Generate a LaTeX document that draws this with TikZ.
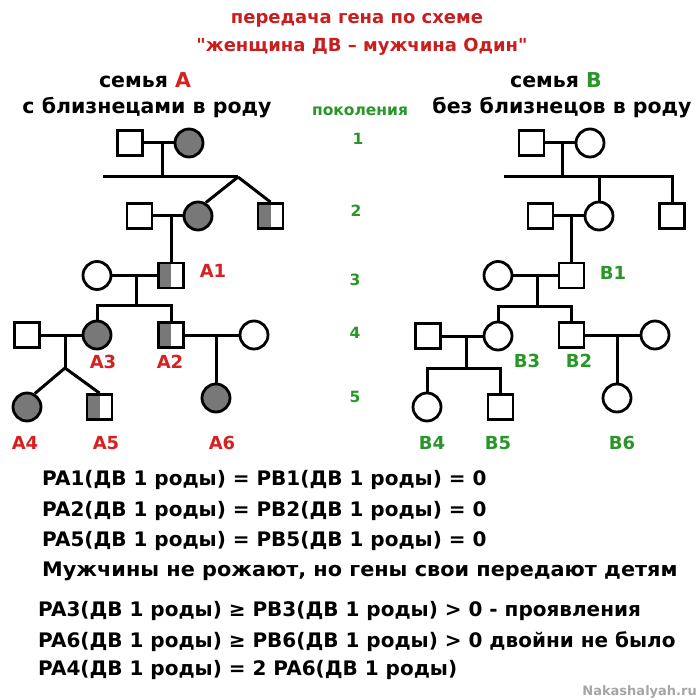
\documentclass[tikz,border=0pt]{standalone}
\usepackage{fontspec}
\setmainfont{DejaVu Sans}
\definecolor{aff}{RGB}{120,120,120}
\definecolor{tred}{RGB}{200,30,30}
\definecolor{lred}{RGB}{215,32,32}
\definecolor{lgreen}{RGB}{40,150,40}
\newcommand{\sqt}{\XeTeXglyph\XeTeXcharglyph"22\relax}
\begin{document}
\begin{tikzpicture}[x=1pt,y=-1pt,
  sq/.style={draw, rectangle, line width=2.8pt, minimum size=25pt, inner sep=0pt},
  ci/.style={draw, circle, line width=2.8pt, minimum size=28pt, inner sep=0pt},
  affd/.style={fill=aff},
  half/.style={path picture={\fill[aff] (path picture bounding box.south west) rectangle (path picture bounding box.north);}},
  ln/.style={line width=3pt},
  lblA/.style={text=lred, font=\fontsize{18}{18}\selectfont\bfseries, inner sep=0pt},
  lblB/.style={text=lgreen, font=\fontsize{18}{18}\selectfont\bfseries, inner sep=0pt},
  gen/.style={text=lgreen, font=\fontsize{15.5}{15.5}\selectfont\bfseries, inner sep=0pt},
  head/.style={font=\fontsize{20.5}{20.5}\selectfont\bfseries, inner sep=0pt},
  ttl/.style={text=tred, font=\fontsize{18}{18}\selectfont\bfseries, inner sep=0pt},
  eq/.style={anchor=west, font=\fontsize{20}{20}\selectfont\bfseries, inner sep=0pt}
]
\useasboundingbox (0,0) rectangle (700,700);
\fill[white] (0,0) rectangle (700,700);

% ---------- titles ----------
\node[ttl] (t1) at (357,20) {передача гена по схеме};
\node[ttl] (t2) at (362,47) {\sqt женщина ДВ – мужчина Один\sqt};
\node[head] (hA1) at (145,80) {семья \textcolor{lred}{A}};
\node[head] (hA2) at (147,108) {с близнецами в роду};
\node[head] (hB1) at (556,80) {семья \textcolor{lgreen}{B}};
\node[head] (hB2) at (562,108) {без близнецов в роду};
\node[gen] (pk) at (360,111) {поколения};
\node[gen] (g1) at (358,139) {1};
\node[gen] (g2) at (356,211) {2};
\node[gen] (g3) at (355,280) {3};
\node[gen] (g4) at (355,333) {4};
\node[gen] (g5) at (355,397) {5};

% ---------- family A ----------
\node[sq] (a1m) at (130,143) {};
\node[ci,affd] (a1f) at (189,143) {};
\node[sq] (a2m) at (139.5,216) {};
\node[ci,affd] (a2f) at (198,216) {};
\node[sq,half] (a2b) at (270.5,216) {};
\node[ci] (a3f) at (97,275.5) {};
\node[sq,half] (A1) at (171,275.5) {};
\node[sq] (a4m) at (27,335) {};
\node[ci,affd] (A3) at (97,335) {};
\node[sq,half] (A2) at (171,335) {};
\node[ci] (a4f) at (254,335) {};
\node[ci,affd] (A4) at (27,407) {};
\node[sq,half] (A5) at (99.5,407) {};
\node[ci,affd] (A6) at (216,398) {};

\coordinate (ma1) at (162,143);
\coordinate (sa1) at (162,177);
\coordinate (sa1l) at (103,177);
\coordinate (tw1) at (238,177);
\draw[ln] (a1m.east) -- (a1f.west);
\draw[ln] (ma1) -- (sa1);
\draw[ln] (sa1l) -- (tw1);
\draw[ln] (tw1) -- (a2f.60);
\draw[ln] (tw1) -- (a2b.north);
\draw[ln] (a2m.east) -- (a2f.west);
\draw[ln] (a2m.east -| A1.north) -- (A1.north);
\coordinate (ma3) at (136,275.5);
\coordinate (sa3) at (136,305);
\draw[ln] (a3f.east) -- (A1.west);
\draw[ln] (ma3) -- (sa3);
\draw[ln] (A3.north) |- (sa3) -| (A2.north);
\coordinate (ma4) at (65,335);
\coordinate (tw4) at (65,368);
\draw[ln] (a4m.east) -- (A3.west);
\draw[ln] (ma4) -- (tw4);
\draw[ln] (tw4) -- (A4.60);
\draw[ln] (tw4) -- (A5.north);
\draw[ln] (A2.east) -- (a4f.west);
\draw[ln] (A2.east -| A6.north) -- (A6.north);

\node[lblA] (lA1) at (213,271) {A1};
\node[lblA] (lA3) at (103,362) {A3};
\node[lblA] (lA2) at (170,362) {A2};
\node[lblA] (lA4) at (25,443) {A4};
\node[lblA] (lA5) at (106,443) {A5};
\node[lblA] (lA6) at (222,443) {A6};

% ---------- family B ----------
\node[sq] (b1m) at (531.5,143) {};
\node[ci] (b1f) at (590,143) {};
\node[sq] (b2m) at (540.5,216) {};
\node[ci] (b2f) at (599,216) {};
\node[sq] (b2b) at (672,216) {};
\node[ci] (b3f) at (498,275.5) {};
\node[sq] (B1) at (571.5,275.5) {};
\node[sq] (b4m) at (428,336) {};
\node[ci] (B3) at (498,336) {};
\node[sq] (B2) at (571.5,335) {};
\node[ci] (b4f) at (655,335) {};
\node[ci] (B4) at (427,407) {};
\node[sq] (B5) at (500.5,407) {};
\node[ci] (B6) at (617,398) {};

\coordinate (mb1) at (562,143);
\coordinate (sb1) at (562,177);
\coordinate (sb1l) at (504,177);
\draw[ln] (b1m.east) -- (b1f.west);
\draw[ln] (mb1) -- (sb1);
\draw[ln] (sb1l) -| (b2b.north);
\draw[ln] (sb1 -| b2f.north) -- (b2f.north);
\draw[ln] (b2m.east) -- (b2f.west);
\draw[ln] (b2m.east -| B1.north) -- (B1.north);
\coordinate (mb3) at (537,275.5);
\coordinate (sb3) at (537,306);
\draw[ln] (b3f.east) -- (B1.west);
\draw[ln] (mb3) -- (sb3);
\draw[ln] (B3.north) |- (sb3) -| (B2.north);
\coordinate (mb4) at (466,336);
\coordinate (sb4) at (466,368);
\draw[ln] (b4m.east) -- (B3.west);
\draw[ln] (mb4) -- (sb4);
\draw[ln] (B4.north) |- (sb4) -| (B5.north);
\draw[ln] (B2.east) -- (b4f.west);
\draw[ln] (B2.east -| B6.north) -- (B6.north);

\node[lblB] (lB1) at (613,273) {B1};
\node[lblB] (lB3) at (527,361) {B3};
\node[lblB] (lB2) at (579,361) {B2};
\node[lblB] (lB4) at (432,443) {B4};
\node[lblB] (lB5) at (498,443) {B5};
\node[lblB] (lB6) at (622,443) {B6};

% ---------- formulas ----------
\node[eq] (e1) at (42,480) {PA1(ДВ 1 роды) = PB1(ДВ 1 роды) = 0};
\node[eq] (e2) at (42,511) {PA2(ДВ 1 роды) = PB2(ДВ 1 роды) = 0};
\node[eq] (e3) at (42,541) {PA5(ДВ 1 роды) = PB5(ДВ 1 роды) = 0};
\node[eq] (e4) at (42,571) {\scalebox{1.04}[1]{Мужчины не рожают, но гены свои передают детям}};
\node[eq] (e5) at (38,611) {PA3(ДВ 1 роды) ≥ PB3(ДВ 1 роды) > 0 - проявления};
\node[eq] (e6) at (38,642) {PA6(ДВ 1 роды) ≥ PB6(ДВ 1 роды) > 0 двойни не было};
\node[eq] (e7) at (38,670) {PA4(ДВ 1 роды) = 2 PA6(ДВ 1 роды)};
\node[anchor=east, text=black!35, font=\fontsize{13}{13}\selectfont\bfseries, inner sep=0pt] (wm) at (697,692) {Nakashalyah.ru};
\end{tikzpicture}
\end{document}
